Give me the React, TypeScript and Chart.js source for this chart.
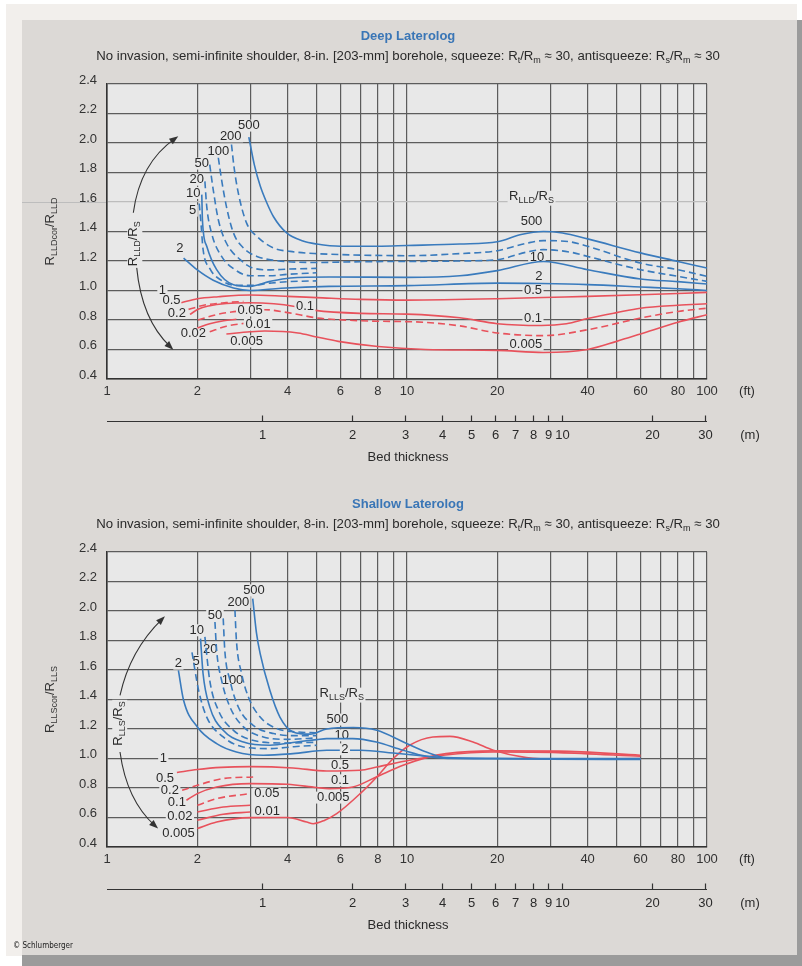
import React, { useEffect, useRef } from 'react';
import { Chart, registerables } from 'chart.js';

Chart.register(...registerables);

type Pt = [number, number];

// ---------- axis ticks ----------
const FT_GRID = [1, 2, 3, 4, 5, 6, 7, 8, 9, 10, 20, 30, 40, 50, 60, 70, 80, 90, 100];
const FT_LABELS = [1, 2, 4, 6, 8, 10, 20, 40, 60, 80, 100];
const M_TICKS = [1, 2, 3, 4, 5, 6, 7, 8, 9, 10, 20, 30];
const Y_TICKS = [0.4, 0.6, 0.8, 1.0, 1.2, 1.4, 1.6, 1.8, 2.0, 2.2, 2.4];
const FT_PER_M = 3.28084;

// ---------- Deep Laterolog curves (bed thickness ft, RLLDcor/RLLD) ----------
const LLD_500: Pt[] = [[2.97, 2.04], [3.1, 1.85], [3.24, 1.71], [3.4, 1.6], [3.59, 1.5], [3.97, 1.39], [4.5, 1.335], [5.0, 1.315], [6, 1.3], [8, 1.3], [10, 1.305], [15, 1.315], [20, 1.33], [24, 1.38], [28.5, 1.4], [33, 1.39], [40, 1.35], [60, 1.255], [80, 1.197], [100, 1.152]];
const LLD_200: Pt[] = [[2.6, 1.99], [2.65, 1.84], [2.74, 1.66], [2.92, 1.457], [3.16, 1.367], [3.59, 1.288], [4.08, 1.265], [5, 1.25], [7, 1.24], [10, 1.236], [15, 1.25], [20, 1.27], [25, 1.32], [28.5, 1.338], [35, 1.33], [40, 1.3], [60, 1.186], [80, 1.141], [100, 1.096]];
const LLD_100: Pt[] = [[2.35, 1.9], [2.41, 1.75], [2.5, 1.57], [2.64, 1.39], [2.85, 1.288], [3.16, 1.231], [3.6, 1.205], [5, 1.19], [7, 1.195], [10, 1.197], [15, 1.2], [20, 1.209], [25, 1.26], [28.5, 1.277], [35, 1.26], [40, 1.231], [60, 1.141], [80, 1.096], [100, 1.062]];
const LLD_50: Pt[] = [[2.2, 1.853], [2.26, 1.683], [2.35, 1.48], [2.5, 1.322], [2.78, 1.209], [3.04, 1.155], [3.5, 1.14], [4, 1.145], [5, 1.15]];
const LLD_20: Pt[] = [[2.12, 1.74], [2.15, 1.57], [2.23, 1.39], [2.41, 1.231], [2.67, 1.141], [3.0, 1.1], [3.5, 1.1], [4, 1.11], [5, 1.12]];
const LLD_10: Pt[] = [[2.07, 1.65], [2.08, 1.48], [2.15, 1.3], [2.32, 1.141], [2.64, 1.039], [3.0, 1.028], [3.5, 1.062], [4.08, 1.085], [5.5, 1.092], [10, 1.089], [15, 1.1], [20, 1.135], [28.5, 1.197], [40, 1.141], [60, 1.078], [80, 1.06], [100, 1.044]];
const LLD_5: Pt[] = [[2.03, 1.59], [2.06, 1.44], [2.09, 1.28], [2.2, 1.15], [2.4, 1.07], [2.7, 1.035], [3.0, 1.035], [3.5, 1.05], [4, 1.06], [5, 1.065]];
const LLD_2: Pt[] = [[1.8, 1.22], [2.0, 1.14], [2.26, 1.07], [2.64, 1.017], [3.0, 1.0], [3.8, 1.015], [5.5, 1.028], [10, 1.033], [20, 1.05], [28, 1.047], [40, 1.04], [60, 1.024], [80, 1.012], [100, 1.0]];
const LLD_05: Pt[] = [[1.77, 0.917], [2.0, 0.944], [2.35, 0.958], [3.0, 0.97], [4.0, 0.96], [5, 0.952], [7, 0.94], [10, 0.935], [20, 0.944], [28.5, 0.953], [40, 0.96], [60, 0.971], [100, 0.987]];
const LLD_02: Pt[] = [[1.87, 0.872], [2.1, 0.9], [2.5, 0.918], [2.85, 0.926]];
const LLD_01: Pt[] = [[1.89, 0.838], [2.02, 0.875], [2.18, 0.895], [2.5, 0.912], [3.0, 0.917], [3.6, 0.91], [4.23, 0.892], [4.94, 0.865], [7, 0.845], [10, 0.84], [15, 0.815], [20, 0.775], [28, 0.763], [34, 0.775], [40, 0.81], [50, 0.85], [60, 0.88], [80, 0.9], [100, 0.91]];
const LLD_005: Pt[] = [[2.01, 0.8], [2.3, 0.835], [2.6, 0.854], [3.0, 0.865], [3.36, 0.87], [4, 0.85], [5.06, 0.813], [7, 0.795], [11.5, 0.784], [15, 0.76], [20, 0.712], [28.5, 0.694], [40, 0.734], [60, 0.813], [80, 0.858], [100, 0.88]];
const LLD_002: Pt[] = [[2.0, 0.745], [2.2, 0.775], [2.45, 0.795], [2.7, 0.805]];
const LLD_001: Pt[] = [[2.2, 0.72], [2.5, 0.758], [2.85, 0.777]];
const LLD_0005: Pt[] = [[2.5, 0.705], [3.0, 0.72], [3.36, 0.725], [4.33, 0.712], [5, 0.685], [5.9, 0.655], [8, 0.62], [11.5, 0.6], [20, 0.594], [28.5, 0.58], [40, 0.6], [50, 0.655], [60, 0.705], [80, 0.785], [100, 0.836]];

// ---------- Shallow Laterolog curves (bed thickness ft, RLLScor/RLLS) ----------
const LLS_500: Pt[] = [[3.06, 2.084], [3.15, 1.85], [3.24, 1.711], [3.49, 1.462], [3.77, 1.281], [4.17, 1.18], [4.75, 1.165], [5.4, 1.2], [6.63, 1.21], [7.93, 1.191], [9.73, 1.112], [11.6, 1.044], [13.5, 1.006], [19.4, 1.0], [30, 0.995], [60, 0.993]];
const LLS_200: Pt[] = [[2.67, 2.005], [2.7, 1.8], [2.81, 1.576], [2.96, 1.417], [3.24, 1.281], [3.68, 1.203], [4.3, 1.18], [5, 1.175]];
const LLS_100: Pt[] = [[2.44, 1.95], [2.47, 1.733], [2.57, 1.53], [2.74, 1.349], [3.07, 1.225], [3.59, 1.169], [4.2, 1.155], [5, 1.155]];
const LLS_50: Pt[] = [[2.29, 1.925], [2.32, 1.733], [2.41, 1.53], [2.57, 1.349], [2.85, 1.214], [3.32, 1.146], [4, 1.13], [5, 1.14]];
const LLS_20: Pt[] = [[2.12, 1.824], [2.2, 1.53], [2.35, 1.327], [2.64, 1.191], [3.0, 1.128], [3.9, 1.105], [5, 1.11]];
const LLS_10: Pt[] = [[2.05, 1.813], [2.09, 1.576], [2.2, 1.35], [2.44, 1.191], [2.85, 1.112], [3.49, 1.09], [4.29, 1.112], [5, 1.128], [5.4, 1.135], [6.6, 1.135], [7.9, 1.112], [9.7, 1.056], [11.6, 1.015], [15.3, 1.0], [30, 0.998], [60, 0.995]];
const LLS_5: Pt[] = [[1.92, 1.72], [2.02, 1.462], [2.15, 1.281], [2.44, 1.146], [2.85, 1.078], [3.5, 1.067], [4.2, 1.08], [5, 1.09]];
const LLS_2: Pt[] = [[1.73, 1.598], [1.8, 1.395], [2.0, 1.214], [2.32, 1.101], [2.7, 1.044], [3.32, 1.022], [4.17, 1.033], [5.4, 1.056], [7, 1.056], [9, 1.037], [11.6, 1.015], [14, 1.0], [30, 1.0], [60, 1.0]];
const LLS_05: Pt[] = [[1.71, 0.905], [2.0, 0.925], [2.4, 0.94], [3.0, 0.945], [4.17, 0.936], [5.4, 0.915], [6.98, 0.92], [7.93, 0.942], [10.2, 0.988], [13.2, 1.022], [19.4, 1.044], [32, 1.04], [60, 1.015]];
const LLS_02: Pt[] = [[1.78, 0.784], [2.0, 0.818], [2.44, 0.864], [3.07, 0.875]];
const LLS_01: Pt[] = [[1.84, 0.717], [2.0, 0.762], [2.32, 0.807], [3.0, 0.83], [4.0, 0.825], [5.0, 0.803], [5.5, 0.796], [6.6, 0.807], [7.9, 0.875], [9.7, 0.954], [11.6, 1.006], [13.5, 1.033], [19.4, 1.052], [32, 1.05], [60, 1.022]];
const LLS_005: Pt[] = [[2.0, 0.683], [2.32, 0.728], [3.0, 0.762]];
const LLS_002: Pt[] = [[2.0, 0.637], [2.44, 0.671], [3.0, 0.683]];
const LLS_001: Pt[] = [[2.0, 0.581], [2.44, 0.622], [3.0, 0.637]];
const LLS_0005: Pt[] = [[2.0, 0.525], [2.32, 0.569], [3.0, 0.599], [4.0, 0.6], [4.63, 0.569], [4.87, 0.558], [5.3, 0.58], [5.83, 0.626], [6.98, 0.762], [7.93, 0.875], [9.0, 1.0], [10.2, 1.09], [12.2, 1.146], [13.9, 1.15], [16.6, 1.112], [19.4, 1.056], [25, 1.006], [32, 0.995], [60, 1.0]];

// ---------- curve labels (text, ft, ratio) ----------
type Lab = { t: string; ft: number; v: number; over?: boolean };
const LLD_LABELS: Lab[] = [
  { t: '500', ft: 2.97, v: 2.118 }, { t: '200', ft: 2.585, v: 2.045 }, { t: '100', ft: 2.35, v: 1.943 },
  { t: '50', ft: 2.07, v: 1.86 }, { t: '20', ft: 1.99, v: 1.751 }, { t: '10', ft: 1.94, v: 1.661 },
  { t: '5', ft: 1.93, v: 1.541 }, { t: '2', ft: 1.75, v: 1.283 }, { t: '1', ft: 1.53, v: 1.0 },
  { t: '0.5', ft: 1.64, v: 0.931 }, { t: '0.2', ft: 1.71, v: 0.847 }, { t: '0.02', ft: 1.94, v: 0.712 },
  { t: '0.05', ft: 3.0, v: 0.865, over: true }, { t: '0.1', ft: 4.57, v: 0.892, over: true },
  { t: '0.01', ft: 3.19, v: 0.768 }, { t: '0.005', ft: 2.92, v: 0.655 },
  { t: 'R_{LLD}/R_{S}', ft: 26.0, v: 1.636 }, { t: '500', ft: 26.0, v: 1.468 }, { t: '10', ft: 27.1, v: 1.227 },
  { t: '2', ft: 27.5, v: 1.096 }, { t: '0.5', ft: 26.3, v: 1.0 }, { t: '0.1', ft: 26.3, v: 0.81 },
  { t: '0.005', ft: 24.9, v: 0.633 },
];
const LLS_LABELS: Lab[] = [
  { t: '2', ft: 1.73, v: 1.643 }, { t: '5', ft: 1.98, v: 1.661 }, { t: '10', ft: 1.99, v: 1.869 },
  { t: '20', ft: 2.21, v: 1.738 }, { t: '50', ft: 2.29, v: 1.971 }, { t: '200', ft: 2.74, v: 2.061 },
  { t: '500', ft: 3.09, v: 2.14 }, { t: '100', ft: 2.62, v: 1.53 }, { t: '1', ft: 1.54, v: 1.0 },
  { t: '0.5', ft: 1.56, v: 0.864 }, { t: '0.2', ft: 1.62, v: 0.784 }, { t: '0.1', ft: 1.71, v: 0.705 },
  { t: '0.02', ft: 1.75, v: 0.608 }, { t: '0.005', ft: 1.73, v: 0.495 }, { t: '0.05', ft: 3.41, v: 0.762 },
  { t: '0.01', ft: 3.42, v: 0.644 },
  { t: 'R_{LLS}/R_{S}', ft: 6.06, v: 1.44 }, { t: '500', ft: 5.86, v: 1.264 }, { t: '10', ft: 6.06, v: 1.157 },
  { t: '2', ft: 6.21, v: 1.062, over: true }, { t: '0.5', ft: 5.98, v: 0.954 }, { t: '0.1', ft: 5.98, v: 0.852 },
  { t: '0.005', ft: 5.68, v: 0.735 },
];

// ---------- arrows (ft, ratio) ----------
type Arrow = { from: Pt; ctrl: Pt; to: Pt };
const LLD_ARROWS: Arrow[] = [
  { from: [1.224, 1.527], ctrl: [1.288, 1.864], to: [1.728, 2.045] },
  { from: [1.256, 1.155], ctrl: [1.305, 0.802], to: [1.664, 0.599] },
];
const LLS_ARROWS: Arrow[] = [
  { from: [1.105, 1.428], ctrl: [1.193, 1.734], to: [1.56, 1.964] },
  { from: [1.105, 1.044], ctrl: [1.162, 0.717], to: [1.48, 0.525] },
];

// ---------- styles ----------
const W = 802;
const H = 966;
const PLOT_LEFT = 107;
const PLOT_RIGHT = 707;
const FONT = '"Liberation Sans", Arial, Helvetica, sans-serif';
const FS = 13;
const BLUE = '#3a7bbd';
const RED = '#e8525c';
const TITLE_BLUE = '#3a76b6';
const TEXT = '#2a2a2a';
const GRID = '#5c5c5c';
const LIGHT_GRID = '#bdbdbd';
const PLOT_BG = '#e8e8e8';

type Series = { name: string; data: Pt[]; color: string; dash: boolean };
const S = (name: string, data: Pt[], color: string, dash: boolean): Series => ({ name, data, color, dash });

const LLD_SERIES: Series[] = [
  S('500', LLD_500, BLUE, false), S('200', LLD_200, BLUE, true), S('100', LLD_100, BLUE, true),
  S('50', LLD_50, BLUE, true), S('20', LLD_20, BLUE, true), S('10', LLD_10, BLUE, false),
  S('5', LLD_5, BLUE, true), S('2', LLD_2, BLUE, false),
  S('0.5', LLD_05, RED, false), S('0.2', LLD_02, RED, true), S('0.1', LLD_01, RED, false),
  S('0.05', LLD_005, RED, true), S('0.02', LLD_002, RED, false), S('0.01', LLD_001, RED, true),
  S('0.005', LLD_0005, RED, false),
];
const LLS_SERIES: Series[] = [
  S('500', LLS_500, BLUE, false), S('200', LLS_200, BLUE, true), S('100', LLS_100, BLUE, true),
  S('50', LLS_50, BLUE, true), S('20', LLS_20, BLUE, true), S('10', LLS_10, BLUE, false),
  S('5', LLS_5, BLUE, true), S('2', LLS_2, BLUE, false),
  S('0.5', LLS_05, RED, false), S('0.2', LLS_02, RED, true), S('0.1', LLS_01, RED, false),
  S('0.05', LLS_005, RED, true), S('0.02', LLS_002, RED, false), S('0.01', LLS_001, RED, false),
  S('0.005', LLS_0005, RED, false),
];

const SUBTITLE = 'No invasion, semi-infinite shoulder, 8-in. [203-mm] borehole, squeeze: R_{t}/R_{m} \u2248 30, antisqueeze: R_{s}/R_{m} \u2248 30';

type Panel = {
  top: number; bottom: number; title: string; yTitle: string; series: Series[]; labels: Lab[];
  arrows: Arrow[]; rot: { t: string; ft: number; v: number }; lightGrid?: number; copyright?: boolean;
};

const DEEP: Panel = {
  top: 84, bottom: 379, title: 'Deep Laterolog', yTitle: 'R_{LLDcor}/R_{LLD}', series: LLD_SERIES,
  labels: LLD_LABELS, arrows: LLD_ARROWS, rot: { t: 'R_{LLD}/R_{S}', ft: 1.224, v: 1.317 }, lightGrid: 1.6,
};
const SHALLOW: Panel = {
  top: 552, bottom: 847, title: 'Shallow Laterolog', yTitle: 'R_{LLScor}/R_{LLS}', series: LLS_SERIES,
  labels: LLS_LABELS, arrows: LLS_ARROWS, rot: { t: 'R_{LLS}/R_{S}', ft: 1.09, v: 1.237 }, copyright: true,
};

// ---------- rich text helper ----------
function parseRich(s: string) {
  const out: { t: string; sub: boolean; w?: number }[] = [];
  const re = /_\{([^}]*)\}/g;
  let last = 0;
  let m: RegExpExecArray | null;
  while ((m = re.exec(s))) {
    if (m.index > last) out.push({ t: s.slice(last, m.index), sub: false });
    out.push({ t: m[1], sub: true });
    last = re.lastIndex;
  }
  if (last < s.length) out.push({ t: s.slice(last), sub: false });
  return out;
}

function drawRich(
  ctx: CanvasRenderingContext2D, s: string, x: number, y: number, size: number,
  o: { align?: 'center' | 'left'; bold?: boolean; color?: string; bg?: string } = {}
) {
  const segs = parseRich(s);
  const subSize = Math.round(size * 0.7);
  const font = (sub: boolean) => `${o.bold ? 'bold ' : ''}${sub ? subSize : size}px ${FONT}`;
  let w = 0;
  let hasSub = false;
  for (const g of segs) {
    ctx.font = font(g.sub);
    g.w = ctx.measureText(g.t).width;
    w += g.w;
    if (g.sub) hasSub = true;
  }
  let x0 = o.align === 'left' ? x : x - w / 2;
  if (o.bg) {
    ctx.fillStyle = o.bg;
    ctx.fillRect(x0 - 1.5, y - size * 0.46, w + 3, size * 0.92 + (hasSub ? 3 : 0));
  }
  ctx.textBaseline = 'middle';
  ctx.textAlign = 'left';
  ctx.fillStyle = o.color || TEXT;
  for (const g of segs) {
    ctx.font = font(g.sub);
    ctx.fillText(g.t, x0, g.sub ? y + size * 0.32 : y);
    x0 += g.w || 0;
  }
}

function decoPlugin(p: Panel) {
  return {
    id: 'deco',
    beforeDraw(chart: any) {
      const { ctx, chartArea: a } = chart;
      ctx.save();
      ctx.fillStyle = PLOT_BG;
      ctx.fillRect(a.left, a.top, a.right - a.left, a.bottom - a.top);
      if (p.lightGrid != null) {
        const y = Math.round(chart.scales.y.getPixelForValue(p.lightGrid)) + 0.5;
        ctx.strokeStyle = LIGHT_GRID;
        ctx.lineWidth = 1.2;
        ctx.beginPath();
        ctx.moveTo(22, y);
        ctx.lineTo(a.left, y);
        ctx.stroke();
      }
      ctx.restore();
    },
    beforeDatasetsDraw(chart: any) {
      const { ctx } = chart;
      const xs = chart.scales.x;
      const ys = chart.scales.y;
      ctx.save();
      for (const l of p.labels) {
        if (l.over) continue;
        drawRich(ctx, l.t, xs.getPixelForValue(l.ft), ys.getPixelForValue(l.v), FS, { bg: PLOT_BG });
      }
      ctx.restore();
    },
    afterDatasetsDraw(chart: any) {
      const { ctx } = chart;
      const xs = chart.scales.x;
      const ys = chart.scales.y;
      const P = (q: Pt) => [xs.getPixelForValue(q[0]), ys.getPixelForValue(q[1])];
      ctx.save();
      for (const l of p.labels) {
        if (!l.over) continue;
        drawRich(ctx, l.t, xs.getPixelForValue(l.ft), ys.getPixelForValue(l.v), FS, { bg: PLOT_BG });
      }
      ctx.strokeStyle = '#333';
      ctx.fillStyle = '#333';
      ctx.lineWidth = 1.1;
      for (const ar of p.arrows) {
        const [x0, y0] = P(ar.from);
        const [cx, cy] = P(ar.ctrl);
        const [x1, y1] = P(ar.to);
        const ang = Math.atan2(y1 - cy, x1 - cx);
        const L = 9;
        const Wd = 3.4;
        ctx.beginPath();
        ctx.moveTo(x0, y0);
        ctx.quadraticCurveTo(cx, cy, x1 - 4 * Math.cos(ang), y1 - 4 * Math.sin(ang));
        ctx.stroke();
        ctx.beginPath();
        ctx.moveTo(x1, y1);
        ctx.lineTo(x1 - L * Math.cos(ang) + Wd * Math.sin(ang), y1 - L * Math.sin(ang) - Wd * Math.cos(ang));
        ctx.lineTo(x1 - L * Math.cos(ang) - Wd * Math.sin(ang), y1 - L * Math.sin(ang) + Wd * Math.cos(ang));
        ctx.closePath();
        ctx.fill();
      }
      const [rx, ry] = P([p.rot.ft, p.rot.v]);
      ctx.translate(rx, ry);
      ctx.rotate(-Math.PI / 2);
      drawRich(ctx, p.rot.t, 0, 0, FS, { bg: PLOT_BG });
      ctx.restore();
    },
    afterDraw(chart: any) {
      const { ctx, chartArea: a } = chart;
      const xs = chart.scales.x;
      const cx = (a.left + a.right) / 2 + 1;
      ctx.save();
      drawRich(ctx, p.title, cx, a.top - 48, 13, { bold: true, color: TITLE_BLUE });
      drawRich(ctx, SUBTITLE, cx, a.top - 28, 13.2, { color: TEXT });
      ctx.save();
      ctx.translate(50, (a.top + a.bottom) / 2);
      ctx.rotate(-Math.PI / 2);
      drawRich(ctx, p.yTitle, 0, 0, FS, { color: '#333' });
      ctx.restore();
      drawRich(ctx, '(ft)', a.right + 40, a.bottom + 12, FS, {});
      const my = a.bottom + 42 + 0.5;
      ctx.strokeStyle = '#333';
      ctx.lineWidth = 1.2;
      ctx.beginPath();
      ctx.moveTo(a.left, my);
      ctx.lineTo(a.right, my);
      ctx.stroke();
      for (const m of M_TICKS) {
        const x = Math.round(xs.getPixelForValue(m * FT_PER_M)) + 0.5;
        ctx.beginPath();
        ctx.moveTo(x, my);
        ctx.lineTo(x, my - 6);
        ctx.stroke();
        drawRich(ctx, String(m), x, my + 14, FS, {});
      }
      drawRich(ctx, '(m)', a.right + 43, my + 14, FS, {});
      drawRich(ctx, 'Bed thickness', cx, my + 36, FS, {});
      if (p.copyright) {
        ctx.font = `8px "Liberation Sans Narrow", "DejaVu Sans Condensed", ${FONT}`;
        ctx.fillStyle = '#222';
        ctx.textAlign = 'left';
        ctx.textBaseline = 'middle';
        ctx.fillText('\u00a9 Schlumberger', 13, 946);
      }
      ctx.restore();
    },
  };
}

function makeConfig(p: Panel): any {
  return {
    type: 'line',
    data: {
      datasets: p.series.map((s) => ({
        label: s.name,
        data: s.data.map(([x, y]) => ({ x, y })),
        borderColor: s.color,
        borderWidth: 1.6,
        borderDash: s.dash ? [7, 4] : [],
        pointRadius: 0,
        fill: false,
        cubicInterpolationMode: 'monotone',
      })),
    },
    options: {
      responsive: false,
      animation: false,
      devicePixelRatio: 1,
      events: [],
      layout: { padding: { left: 0, right: W - PLOT_RIGHT, top: p.top, bottom: 0 } },
      plugins: { legend: { display: false }, tooltip: { enabled: false }, title: { display: false } },
      scales: {
        x: {
          type: 'logarithmic',
          min: 1,
          max: 100,
          afterBuildTicks: (s: any) => { s.ticks = FT_GRID.map((v) => ({ value: v })); },
          afterFit: (s: any) => { s.height = H - p.bottom; },
          ticks: {
            autoSkip: false,
            maxRotation: 0,
            padding: 5,
            color: '#333',
            font: { family: FONT, size: FS },
            callback: (v: any) => (FT_LABELS.includes(Number(v)) ? String(v) : ''),
          },
          grid: { color: GRID, lineWidth: 1.2, drawTicks: false },
          border: { display: true, color: '#333', width: 1.6 },
        },
        y: {
          type: 'linear',
          min: 0.4,
          max: 2.4,
          afterBuildTicks: (s: any) => { s.ticks = Y_TICKS.map((v) => ({ value: v })); },
          afterFit: (s: any) => { s.width = PLOT_LEFT; },
          ticks: {
            padding: 10,
            labelOffset: -4,
            color: '#333',
            font: { family: FONT, size: FS },
            callback: (v: any) => Number(v).toFixed(1),
          },
          grid: {
            color: (c: any) => (p.lightGrid != null && c.tick && Math.abs(c.tick.value - p.lightGrid) < 1e-6 ? LIGHT_GRID : GRID),
            lineWidth: 1.2,
            drawTicks: false,
          },
          border: { display: true, color: '#333', width: 1.6 },
        },
      },
    },
    plugins: [decoPlugin(p)],
  };
}

export default function App() {
  const c1 = useRef<HTMLCanvasElement>(null);
  const c2 = useRef<HTMLCanvasElement>(null);
  useEffect(() => {
    const ch1 = new Chart(c1.current as HTMLCanvasElement, makeConfig(DEEP));
    const ch2 = new Chart(c2.current as HTMLCanvasElement, makeConfig(SHALLOW));
    return () => {
      ch1.destroy();
      ch2.destroy();
    };
  }, []);
  const abs = (l: number, t: number, w: number, h: number, bg: string): React.CSSProperties => ({
    position: 'absolute', left: l, top: t, width: w, height: h, background: bg,
  });
  const cv: React.CSSProperties = { position: 'absolute', left: 0, top: 0, width: W, height: H };
  return (
    <div style={{ position: 'absolute', left: 0, top: 0, width: W, height: H, background: '#ffffff', overflow: 'hidden' }}>
      <div style={abs(6, 4, 791, 952, '#f2efec')} />
      <div style={abs(797, 20, 5, 946, '#9b9b9b')} />
      <div style={abs(22, 955, 780, 11, '#9b9b9b')} />
      <div style={abs(22, 20, 775, 935, '#dcd9d6')} />
      <canvas ref={c1} width={W} height={H} style={cv} />
      <canvas ref={c2} width={W} height={H} style={cv} />
    </div>
  );
}
